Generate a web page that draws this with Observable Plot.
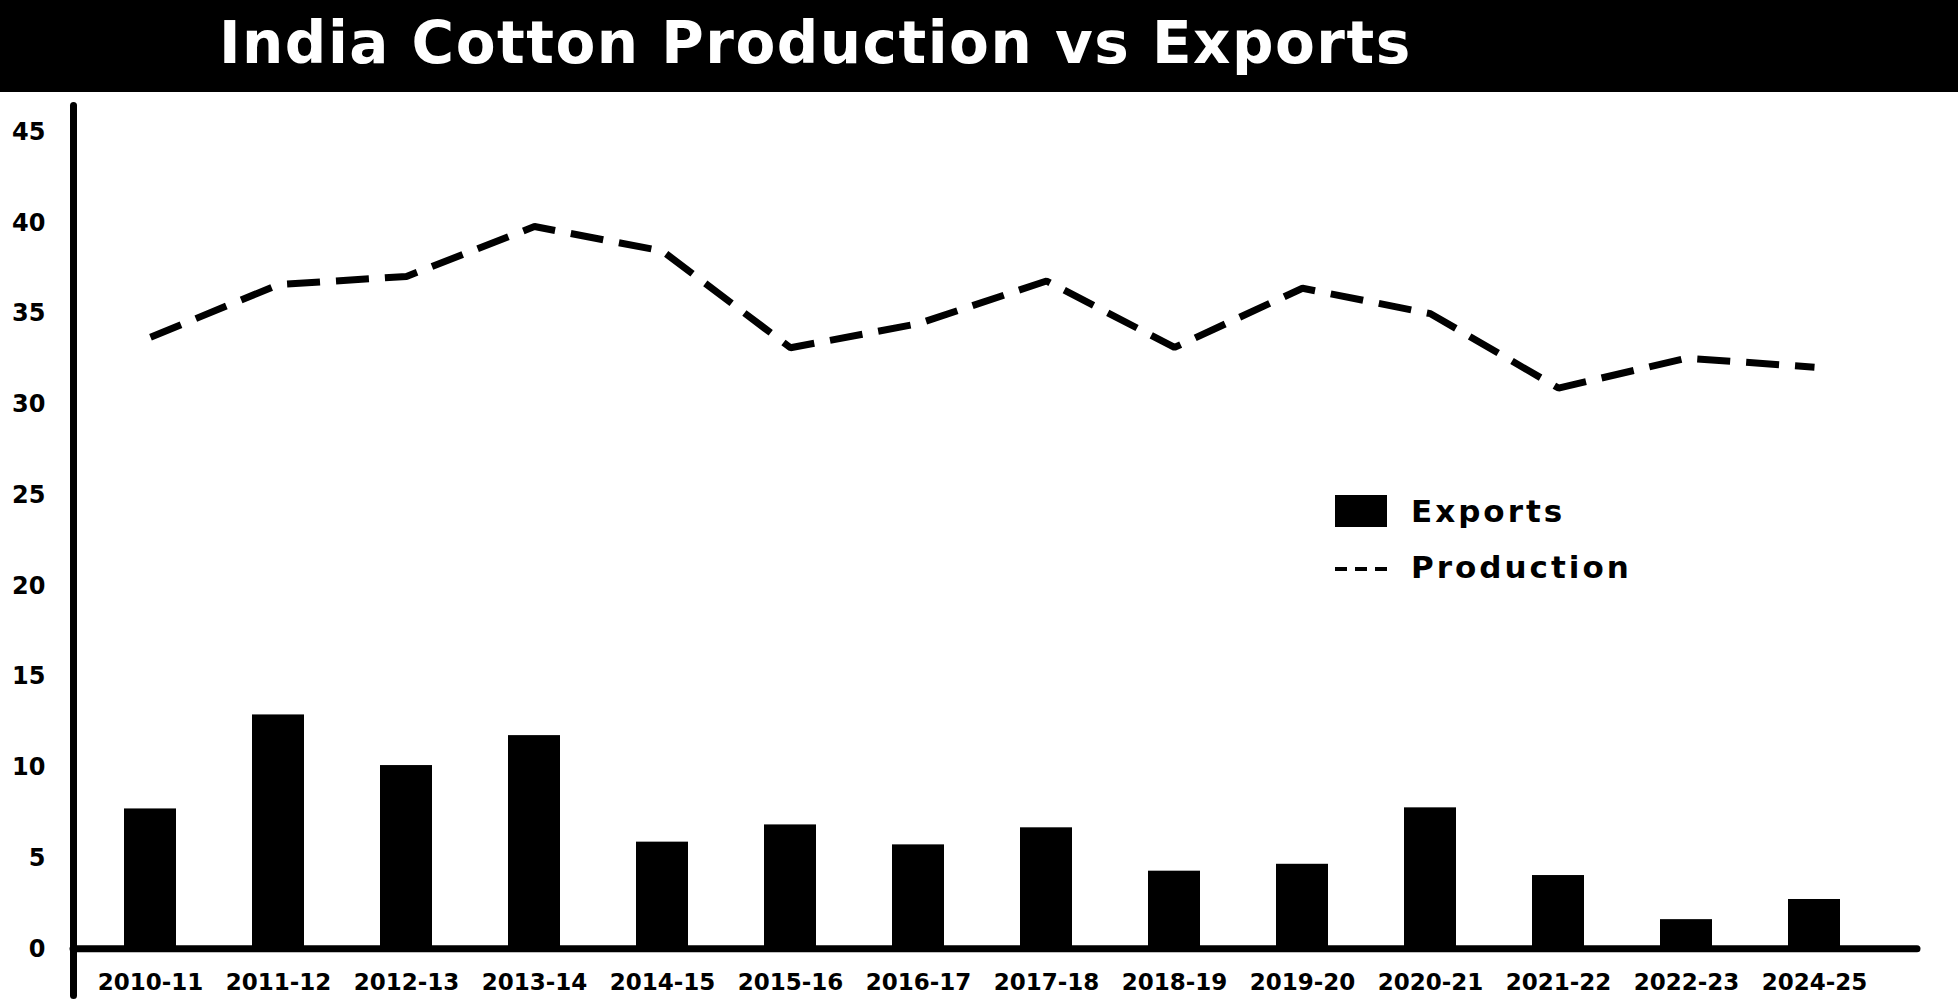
<!DOCTYPE html>
<html>
<head>
<meta charset="utf-8">
<script src="https://cdn.jsdelivr.net/npm/d3@7"></script>
<script src="https://cdn.jsdelivr.net/npm/@observablehq/plot@0.6"></script>
<style>
  html, body { margin: 0; padding: 0; background: #fff; }
  #page { position: relative; width: 1958px; height: 1001px; overflow: hidden; font-family: "DejaVu Sans", sans-serif; font-weight: bold; }
  #titlebar { position: relative; height: 92px; background: #000; }
  #title { position: absolute; left: 219px; top: 14px; font-size: 58px; line-height: 58px; color: #fff; white-space: nowrap; letter-spacing: 1.5px; margin: 0; font-weight: bold; }
  #chart svg { display: block; }
  .lg { position: absolute; }
  .lg-text { font-size: 31px; line-height: 31px; letter-spacing: 3px; color: #000; white-space: nowrap; }
  #sw-bar { left: 1335px; top: 495px; width: 52px; height: 32px; background: #000; }
  #sw-line { left: 1335px; top: 567px; width: 52px; height: 4px; background: repeating-linear-gradient(to right, #000 0 12px, transparent 12px 20px); }
  #lg-exports { left: 1411px; top: 496px; }
  #lg-production { left: 1411px; top: 552px; }
</style>
</head>
<body>
<div id="page">
  <div id="titlebar"><h1 id="title">India Cotton Production vs Exports</h1></div>
  <div id="chart"></div>
  <div class="lg" id="sw-bar"></div>
  <div class="lg lg-text" id="lg-exports">Exports</div>
  <div class="lg" id="sw-line"></div>
  <div class="lg lg-text" id="lg-production">Production</div>
</div>
<script>
const seasons = ["2010-11","2011-12","2012-13","2013-14","2014-15","2015-16","2016-17","2017-18","2018-19","2019-20","2020-21","2021-22","2022-23","2024-25"];
const exportsValues = [7.71, 12.89, 10.1, 11.75, 5.88, 6.83, 5.73, 6.67, 4.28, 4.66, 7.77, 4.04, 1.61, 2.72];
const productionValues = [33.7, 36.6, 37.05, 39.8, 38.45, 33.12, 34.45, 36.8, 33.14, 36.4, 35.0, 30.9, 32.55, 32.05];
const yTicks = [0, 5, 10, 15, 20, 25, 30, 35, 40, 45];

const data = seasons.map((s, i) => ({season: s, exports: exportsValues[i], production: productionValues[i]}));

const chart = Plot.plot({
  width: 1958,
  height: 909,
  marginLeft: 73,
  marginRight: 41,
  marginTop: 13,
  marginBottom: 6,
  style: {fontFamily: "DejaVu Sans", fontWeight: "bold", background: "#fff", color: "#000"},
  x: {type: "band", domain: seasons, paddingInner: 0.59, paddingOuter: 0.475, align: 0.4, label: null},
  y: {domain: [-2.57, 46.47], label: null},
  marks: [
    Plot.barY(data, {x: "season", y: "exports", fill: "#000"}),
    Plot.lineY(data, {x: "season", y: "production", stroke: "#000", strokeWidth: 7, strokeDasharray: "33,16", strokeLinecap: "butt", strokeLinejoin: "miter"}),
    Plot.ruleY([0], {stroke: "#000", strokeWidth: 7, strokeLinecap: "round"}),
    Plot.frame({anchor: "left", stroke: "#000", strokeWidth: 7, strokeLinecap: "round"}),
    Plot.axisY({ticks: yTicks, tickSize: 0, tickPadding: 28, fontSize: 24, fontWeight: "bold", fill: "#000", label: null}),
    Plot.axisX({tickSize: 0, tickPadding: -13, lineAnchor: "middle", fontSize: 23, fontWeight: "bold", fill: "#000", label: null})
  ]
});
document.getElementById("chart").appendChild(chart);
</script>
</body>
</html>
